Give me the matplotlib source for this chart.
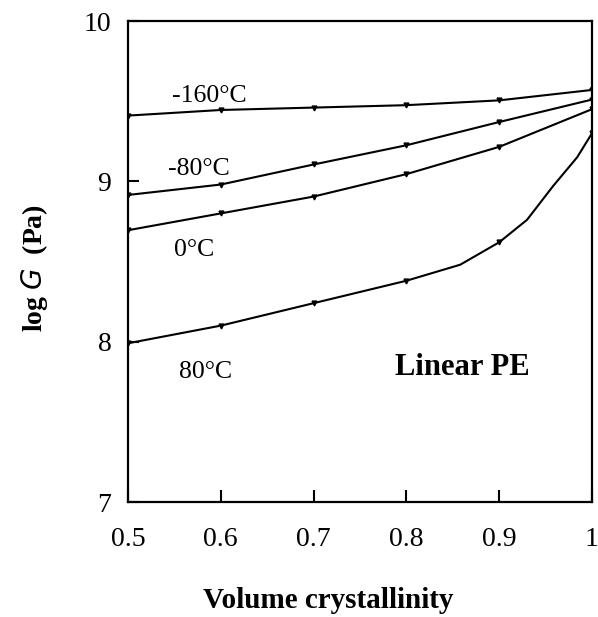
import matplotlib
matplotlib.use("Agg")
import matplotlib.pyplot as plt

# volume crystallinity where the points sit
x_pts = [0.5, 0.6, 0.7, 0.8, 0.9, 1.0]

# log G (Pa)
g_m160 = [9.41, 9.445, 9.46, 9.475, 9.505, 9.57]
g_m80 = [8.915, 8.98, 9.105, 9.225, 9.37, 9.51]
g_0 = [8.695, 8.80, 8.905, 9.045, 9.215, 9.45]
# 80 C curve bends up, extra points
x_80 = [0.5, 0.6, 0.7, 0.8, 0.858, 0.9, 0.93, 0.958, 0.984, 1.0]
g_80 = [7.99, 8.10, 8.24, 8.38, 8.48, 8.62, 8.76, 8.97, 9.15, 9.30]
mark_80 = [0, 1, 2, 3, 5, 9]

curve_labels = ["-160°C", "-80°C", "0°C", "80°C"]
label_x = [0.547, 0.543, 0.55, 0.555]
label_y = [9.53, 9.08, 8.57, 7.81]

plt.rcParams['font.family'] = ['Liberation Serif', 'DejaVu Serif']

fig = plt.figure(figsize=(5.98, 6.17), dpi=100)
ax = fig.add_axes([128/598, 1-502/617, (592-128)/598, (502-21)/617])

for g in [g_m160, g_m80, g_0]:
    ax.plot(x_pts, g, color='black', lw=1.5, marker='v', ms=3.5)
ax.plot(x_80, g_80, color='black', lw=1.5, marker='v', ms=3.5, markevery=mark_80)

for lab, lx, ly in zip(curve_labels, label_x, label_y):
    ax.text(lx, ly, lab, fontsize=18.5, va='center', ha='left')
ax.text(0.788, 7.84, "Linear PE", fontsize=22, fontweight='bold', va='center', ha='left')

ax.set_xlim(0.5, 1.0)
ax.set_ylim(7, 10)
ax.set_xticks([0.5, 0.6, 0.7, 0.8, 0.9, 1.0])
ax.set_xticklabels(["0.5", "0.6", "0.7", "0.8", "0.9", "1"])
ax.set_yticks([7, 8, 9, 10])
ax.tick_params(axis='x', direction='in', length=9, width=1.5, labelsize=20, pad=18)
ax.tick_params(axis='y', direction='in', length=8, width=1.5, labelsize=20, pad=12)
for s in ax.spines.values():
    s.set_linewidth(1.6)

fig.text(328/598, 1-600/617, "Volume crystallinity", fontsize=21, fontweight='bold',
         ha='center', va='center')
fig.text(35/598, 1-268/617, r"log $\mathbf{\mathit{G}}$  (Pa)", fontsize=20, fontweight='bold',
         rotation=90, ha='center', va='center')

fig.savefig("out.png", dpi=100)
